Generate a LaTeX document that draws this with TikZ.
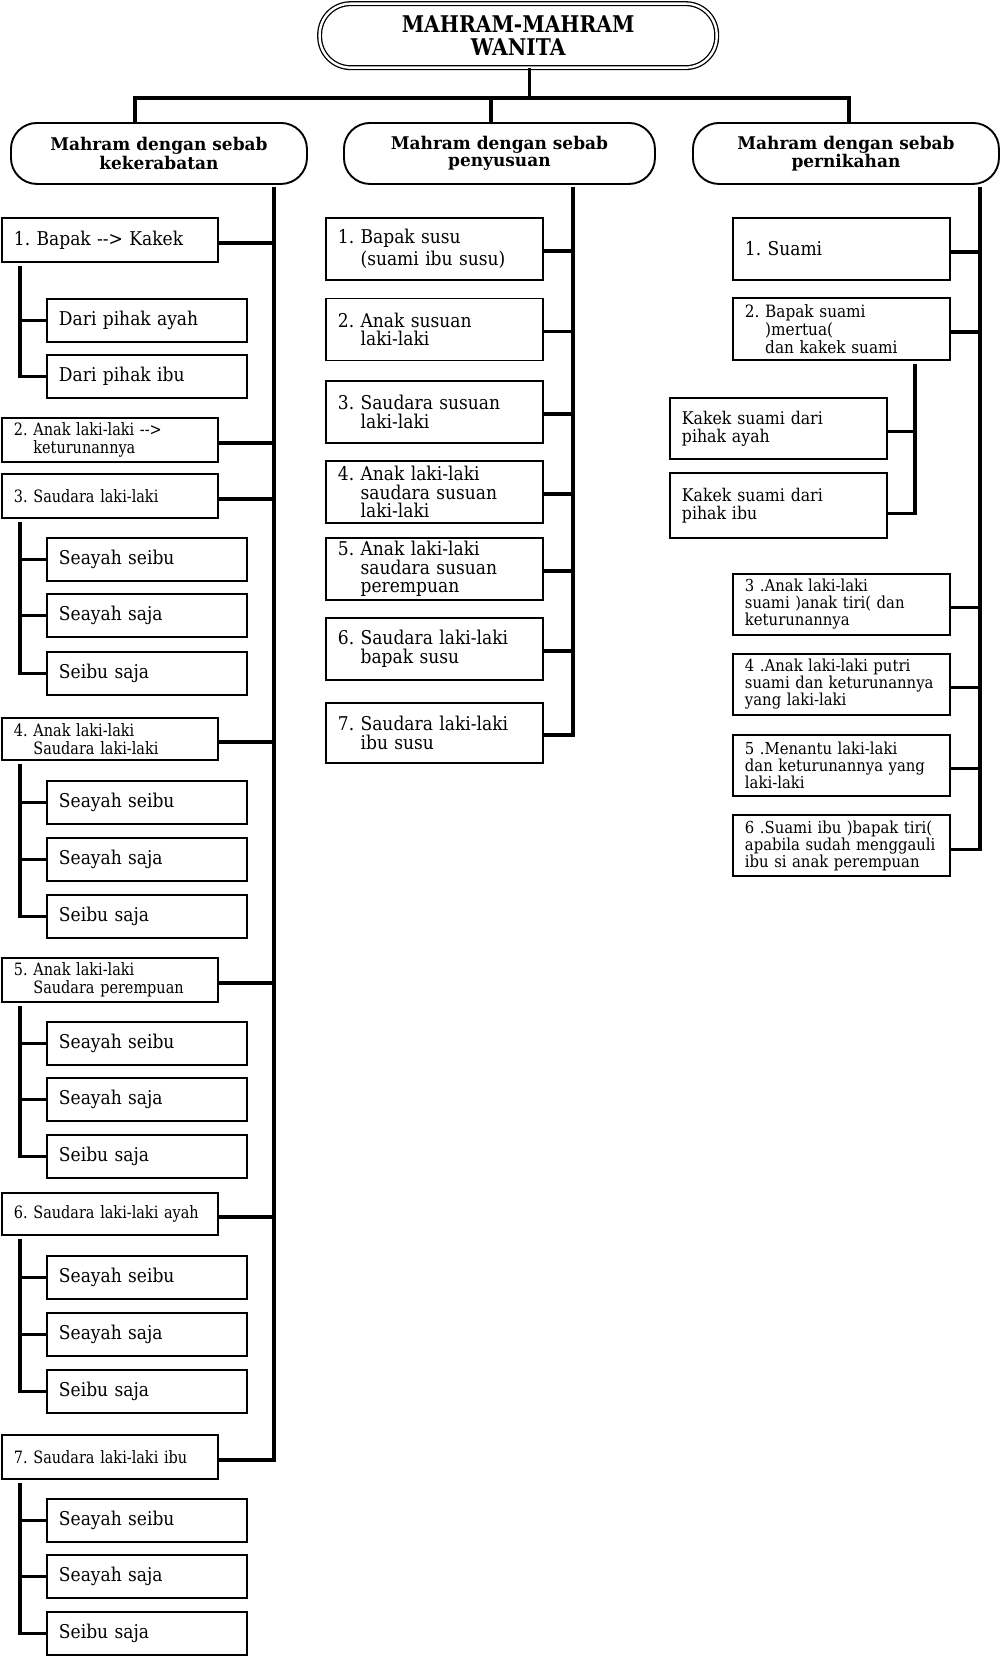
\documentclass[tikz,border=0pt]{standalone}
\usepackage{fontspec}
\setmainfont{DejaVu Serif}
\newfontfamily\bodyf[FakeStretch=0.9]{DejaVu Serif}
\newfontfamily\condf[FakeStretch=0.85]{DejaVu Serif}
\newfontfamily\titlef[FakeStretch=0.88]{DejaVu Serif}
\newfontfamily\catf[FakeStretch=0.97]{DejaVu Serif}
\newcommand\fntBig{\bodyf\fontsize{19}{18.5}\selectfont}
\newcommand\fntMid{\bodyf\fontsize{17.5}{18}\selectfont}
\newcommand\fntSmall{\bodyf\fontsize{16.5}{17}\selectfont}
\newcommand\fntCond{\condf\fontsize{17}{17.5}\selectfont}
\newcommand\fntCat{\catf\bfseries\fontsize{17.5}{16.5}\selectfont}
\newcommand\fntTitle{\titlef\bfseries\fontsize{23}{23}\selectfont}
\newcommand\arr{\mbox{-}\mbox{-}>}
\frenchspacing
\begin{document}
\begin{tikzpicture}[x=1pt,y=-1pt,
  box/.style={draw, line width=1.9pt, rectangle, anchor=north west, inner xsep=12pt, inner ysep=0pt, align=left, execute at begin node=\frenchspacing},
  lmain/.style={box, text width=192pt, minimum height=44pt, font=\fntCond},
  lsub/.style={box, text width=176pt, minimum height=43pt, font=\fntBig},
  mbox/.style={box, text width=193pt, minimum height=62pt, font=\fntBig},
  rbox/.style={box, text width=193pt, minimum height=61pt, font=\fntSmall},
  catbox/.style={draw, line width=1.9pt, rounded corners=26pt, anchor=north west, minimum height=61pt, align=center, font=\fntCat, inner sep=0pt},
  conn/.style={line width=3.2pt}]
\useasboundingbox (0,0) rectangle (1000,1657);

% title
\node[draw, double, double distance=2.4pt, line width=1.3pt, rounded corners=31pt,
      minimum width=397pt, minimum height=64pt, align=center, font=\fntTitle,
      anchor=north west, inner sep=0pt] (title) at (319,3) {MAHRAM-MAHRAM\\WANITA};

% categories
\node[catbox, minimum width=296pt] (catL) at (10,122) {Mahram dengan sebab\\kekerabatan};
\node[catbox, minimum width=311pt] (catM) at (343,122) {Mahram dengan sebab\\penyusuan};
\node[catbox, minimum width=306pt] (catR) at (692,122) {Mahram dengan sebab\\pernikahan};

\coordinate (jl) at (135,98);
\coordinate (jm) at (491,98);
\coordinate (jr) at (849,98);
\draw[conn] ([xshift=11pt]title.south) -- ([xshift=11pt]title.south |- jl);
\draw[conn] (catL.north -| jl) -- (jl) -- (jr) -- (catR.north -| jr);
\draw[conn] (jm) -- (catM.north -| jm);

% ---------- left column ----------
\node[lmain, font=\fntBig] (l1) at (1,217) {1. Bapak \arr{} Kakek};
\node[lsub] (s1a) at (46,298) {Dari pihak ayah};
\node[lsub] (s1b) at (46,354) {Dari pihak ibu};
\node[lmain] (l2) at (1,417) {2. Anak laki-laki \arr\\\phantom{2.\ }keturunannya};
\node[lmain] (l3) at (1,473) {3. Saudara laki-laki};
\node[lsub] (s3a) at (46,537) {Seayah seibu};
\node[lsub] (s3b) at (46,593) {Seayah saja};
\node[lsub] (s3c) at (46,651) {Seibu saja};
\node[lmain, minimum height=42pt] (l4) at (1,717) {4. Anak laki-laki\\\phantom{4.\ }Saudara laki-laki};
\node[lsub] (s4a) at (46,780) {Seayah seibu};
\node[lsub] (s4b) at (46,837) {Seayah saja};
\node[lsub] (s4c) at (46,894) {Seibu saja};
\node[lmain] (l5) at (1,957) {5. Anak laki-laki\\\phantom{5.\ }Saudara perempuan};
\node[lsub] (s5a) at (46,1021) {Seayah seibu};
\node[lsub] (s5b) at (46,1077) {Seayah saja};
\node[lsub] (s5c) at (46,1134) {Seibu saja};
\node[lmain, minimum height=42pt] (l6) at (1,1192) {6. Saudara laki-laki ayah};
\node[lsub] (s6a) at (46,1255) {Seayah seibu};
\node[lsub] (s6b) at (46,1312) {Seayah saja};
\node[lsub] (s6c) at (46,1369) {Seibu saja};
\node[lmain] (l7) at (1,1434) {7. Saudara laki-laki ibu};
\node[lsub] (s7a) at (46,1498) {Seayah seibu};
\node[lsub] (s7b) at (46,1554) {Seayah saja};
\node[lsub] (s7c) at (46,1611) {Seibu saja};

\coordinate (tL) at (274,187);
\coordinate (bx) at (20,0);
\draw[conn] (tL) |- ([yshift=-3pt]l7.east);
\foreach \n in {l1,l2,l3,l4,l5,l6}
  \draw[conn] ([yshift=-3pt]\n.east) -- ([yshift=-3pt]\n.east -| tL);
\draw[conn] ([yshift=-3pt]l1.south -| bx) |- (s1b.west);
\draw[conn] (s1a.west -| bx) -- (s1a.west);
\foreach \g in {3,4,5,6,7} {
  \draw[conn] ([yshift=-3pt]l\g.south -| bx) |- (s\g c.west);
  \draw[conn] (s\g a.west -| bx) -- (s\g a.west);
  \draw[conn] (s\g b.west -| bx) -- (s\g b.west);
}

% ---------- middle column ----------
\node[mbox, font=\bodyf\fontsize{19}{21.5}\selectfont] (m1) at (325,217) {1. Bapak susu\\\phantom{1.\ }(suami ibu susu)};
\node[mbox] (m2) at (325,297.5) {2. Anak susuan\\\phantom{2.\ }laki-laki};
\node[mbox] (m3) at (325,380) {3. Saudara susuan\\\phantom{3.\ }laki-laki};
\node[mbox] (m4) at (325,460) {4. Anak laki-laki\\\phantom{4.\ }saudara susuan\\\phantom{4.\ }laki-laki};
\node[mbox] (m5) at (325,537) {5. Anak laki-laki\\\phantom{5.\ }saudara susuan\\\phantom{5.\ }perempuan};
\node[mbox] (m6) at (325,617) {6. Saudara laki-laki\\\phantom{6.\ }bapak susu};
\node[mbox, minimum height=60pt] (m7) at (325,702) {7. Saudara laki-laki\\\phantom{7.\ }ibu susu};

\coordinate (tM) at (573,187);
\draw[conn] (tM) |- ([yshift=-2pt]m7.east);
\foreach \n in {m1,m2,m3,m4,m5,m6}
  \draw[conn] ([yshift=-2pt]\n.east) -- ([yshift=-2pt]\n.east -| tM);

% ---------- right column ----------
\node[rbox, minimum height=62pt, font=\fntBig] (r1) at (732,217) {1. Suami};
\node[rbox, minimum height=62pt, font=\bodyf\fontsize{17}{18}\selectfont] (r2) at (732,297) {2. Bapak suami\\\phantom{2.\ })mertua(\\\phantom{2.\ }dan kakek suami};
\node[rbox, font=\fntMid] (ka) at (669,397) {Kakek suami dari\\pihak ayah};
\node[rbox, minimum height=65pt, font=\fntMid] (kb) at (669,472) {Kakek suami dari\\pihak ibu};
\node[rbox] (r3) at (732,573) {3 .Anak laki-laki\\suami )anak tiri( dan\\keturunannya};
\node[rbox] (r4) at (732,653) {4 .Anak laki-laki putri\\suami dan keturunannya\\yang laki-laki};
\node[rbox] (r5) at (732,734) {5 .Menantu laki-laki\\dan keturunannya yang\\laki-laki};
\node[rbox] (r6) at (732,814) {6 .Suami ibu )bapak tiri(\\apabila sudah menggauli\\ibu si anak perempuan};

\coordinate (tR) at (980,187);
\coordinate (kx) at (915,0);
\draw[conn] (tR) |- ([yshift=-4pt]r6.east);
\foreach \n in {r1,r2,r3,r4,r5}
  \draw[conn] ([yshift=-3pt]\n.east) -- ([yshift=-3pt]\n.east -| tR);
\draw[conn] ([yshift=-3pt]r2.south -| kx) |- ([yshift=-8pt]kb.east);
\draw[conn] ([yshift=-3pt]ka.east) -- ([yshift=-3pt]ka.east -| kx);
\end{tikzpicture}
\end{document}
